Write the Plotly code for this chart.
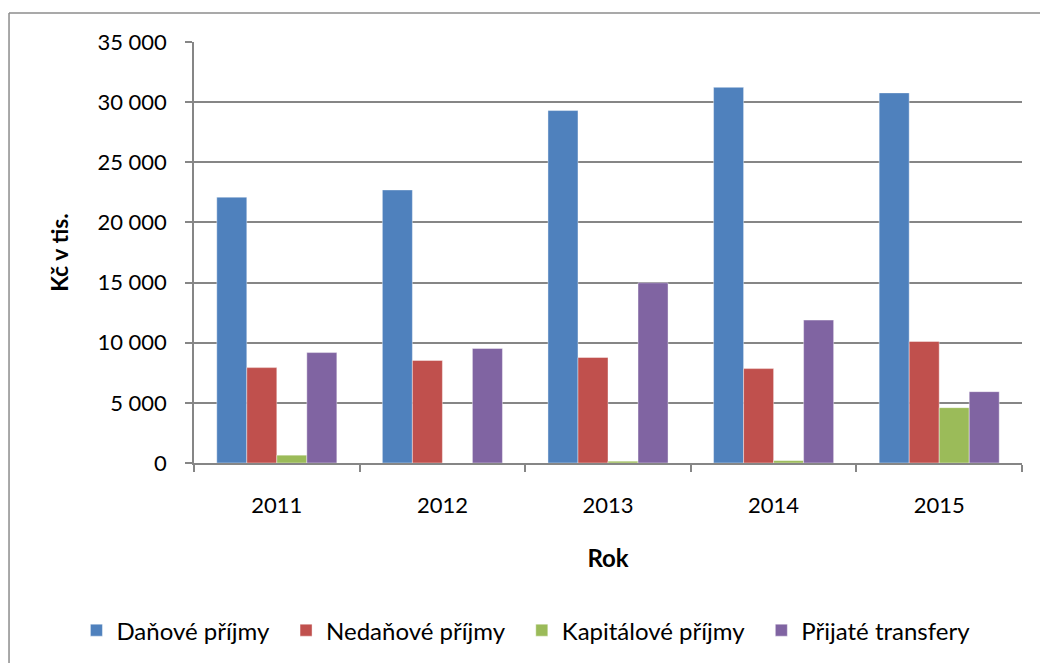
import plotly.graph_objects as go

# data (Kč v tis.)
years = ["2011", "2012", "2013", "2014", "2015"]
danove = [22100, 22700, 29300, 31230, 30770]
nedanove = [7930, 8520, 8770, 7850, 10100]
kapitalove = [650, 0, 150, 200, 4600]
transfery = [9180, 9520, 14980, 11880, 5930]

PAD = "\u00a0\u00a0"  # a bit more room between legend entries
series = [
    ("Daňové příjmy", danove, "#4F81BD"),
    ("Nedaňové příjmy", nedanove, "#C0504D"),
    ("Kapitálové příjmy", kapitalove, "#9BBB59"),
    ("Přijaté transfery", transfery, "#8064A2"),
]

FONT = "Lato"
GRID = "#868686"

fig = go.Figure()
for name, vals, color in series:
    fig.add_trace(go.Bar(
        x=years, y=vals, name=name + PAD,
        marker=dict(color=color, line=dict(color="rgba(255,255,255,0.5)", width=0.8)),
    ))

# outer chart-area frame: only left and top edges are inside the picture
frame = dict(color="#8C8C8C", width=1.5)
fig.add_shape(type="line", xref="paper", yref="paper",
              x0=-0.2234, x1=-0.2234, y0=-0.6, y1=1.069, line=frame, layer="below")
fig.add_shape(type="line", xref="paper", yref="paper",
              x0=-0.2234, x1=1.03, y0=1.069, y1=1.069, line=frame, layer="below")

fig.update_layout(
    width=1040, height=663,
    margin=dict(l=194, r=18, t=42, b=200, autoexpand=False),
    paper_bgcolor="white", plot_bgcolor="white",
    font=dict(family=FONT, size=22, color="black"),
    separators=", ",
    barmode="group", bargap=0.275, bargroupgap=0,
    showlegend=True,
    legend=dict(orientation="h", x=-0.142, xanchor="left", y=-0.398, yanchor="middle",
                font=dict(family=FONT, size=24), itemwidth=30, traceorder="normal"),
    xaxis=dict(
        type="category", showline=True, linecolor=GRID, linewidth=1.5,
        ticks="outside", tickson="boundaries", ticklen=7, tickcolor=GRID, tickwidth=1.5,
        ticklabelstandoff=22, showgrid=False,
        title=dict(text="<b>Rok</b>", font=dict(family=FONT, size=24), standoff=33),
    ),
    yaxis=dict(
        range=[0, 35000], dtick=5000, tickformat=",d",
        showline=True, linecolor=GRID, linewidth=1.5,
        ticks="outside", ticklen=7, tickcolor=GRID, tickwidth=1.5,
        ticklabelstandoff=14,
        showgrid=True, gridcolor=GRID, gridwidth=1.5,
        zeroline=False,
        title=dict(text="<b>Kč v tis.</b>", font=dict(family=FONT, size=23), standoff=22),
    ),
)

fig.write_html("out.html", config={"displayModeBar": False},
               post_script="document.body.style.margin='0';document.body.style.overflow='hidden';")
